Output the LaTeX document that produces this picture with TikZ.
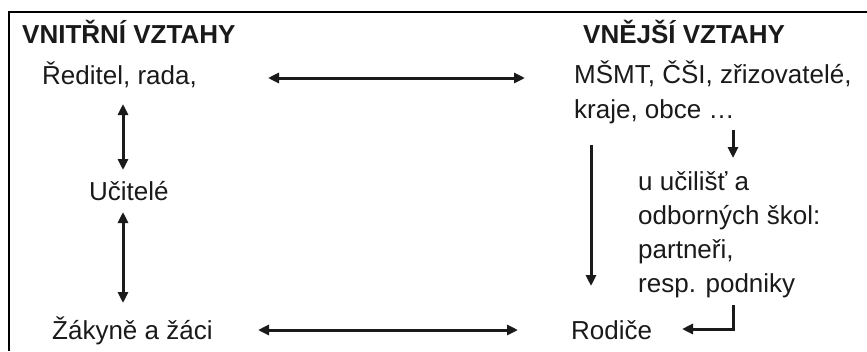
\documentclass[tikz,border=0pt]{standalone}
\usepackage{fontspec}
\setmainfont{Liberation Sans}
\usetikzlibrary{arrows.meta}
\definecolor{ink}{HTML}{1A1A1A}
\begin{document}
\begin{tikzpicture}[x=1pt, y=-1pt,
  txt/.style={anchor=base west, inner sep=0pt, text=ink, font=\fontsize{26}{34}\selectfont},
  head/.style={txt, font=\fontsize{26}{34}\selectfont\bfseries},
  tip/.style={Triangle[length=11pt,width=10pt]},
  link/.style={line width=3pt, draw=ink, arrows={-Triangle[length=11pt,width=10pt]}},
  both/.style={link, arrows={Triangle[length=11pt,width=10pt]-Triangle[length=11pt,width=10pt]}},
  frame/.style={line width=2pt, draw=black}]
\useasboundingbox (0,0) rectangle (867,351);
\fill[white] (0,0) rectangle (867,351);
% frame edges
\draw[frame] (867,12) -- (9,12) -- (9,351);

% headings
\node[head] (hin) at (22,43) {VNITŘNÍ VZTAHY};
\node[head] (hout) at (583,43) {VNĚJŠÍ VZTAHY};

% internal side
\node[txt] (red) at (42,84) {Ředitel, rada,};
\node[txt] (uc) at (89,200) {Učitelé};
\node[txt] (zak) at (52,339) {Žákyně a žáci};

% external side
\node[txt] (msmt) at (574,83) {MŠMT, ČŠI, zřizovatelé,};
\node[txt] (kraje) at (574,118) {kraje, obce …};
% multi-line block: the base anchor sits on its last line
\node[txt, align=left] (ucil) at (638,292) {u učilišť a\\odborných škol:\\partneři,\\resp. podniky};
\node[txt] (rod) at (571,339) {Rodiče};

% connector end points
\coordinate (a1) at (268,78);
\coordinate (a2) at (525,78);
\coordinate (b1) at (258,330);
\coordinate (b2) at (518,330);
\coordinate (c1) at (123,104);
\coordinate (c2) at (123,170);
\coordinate (d1) at (123,212);
\coordinate (d2) at (123,303);
\coordinate (e1) at (733,130);
\coordinate (e2) at (733,158);
\coordinate (f1) at (591,145);
\coordinate (f2) at (591,286);
\coordinate (g1) at (733,305);
\coordinate (g2) at (682,329);

% connectors
\draw[both] (a1) -- (a2);
\draw[both] (b1) -- (b2);
\draw[both] (c1) -- (c2);
\draw[both] (d1) -- (d2);
\draw[link] (e1) -- (e2);
\draw[link] (f1) -- (f2);
\draw[link] (g1) |- (g2);
\end{tikzpicture}
\end{document}
